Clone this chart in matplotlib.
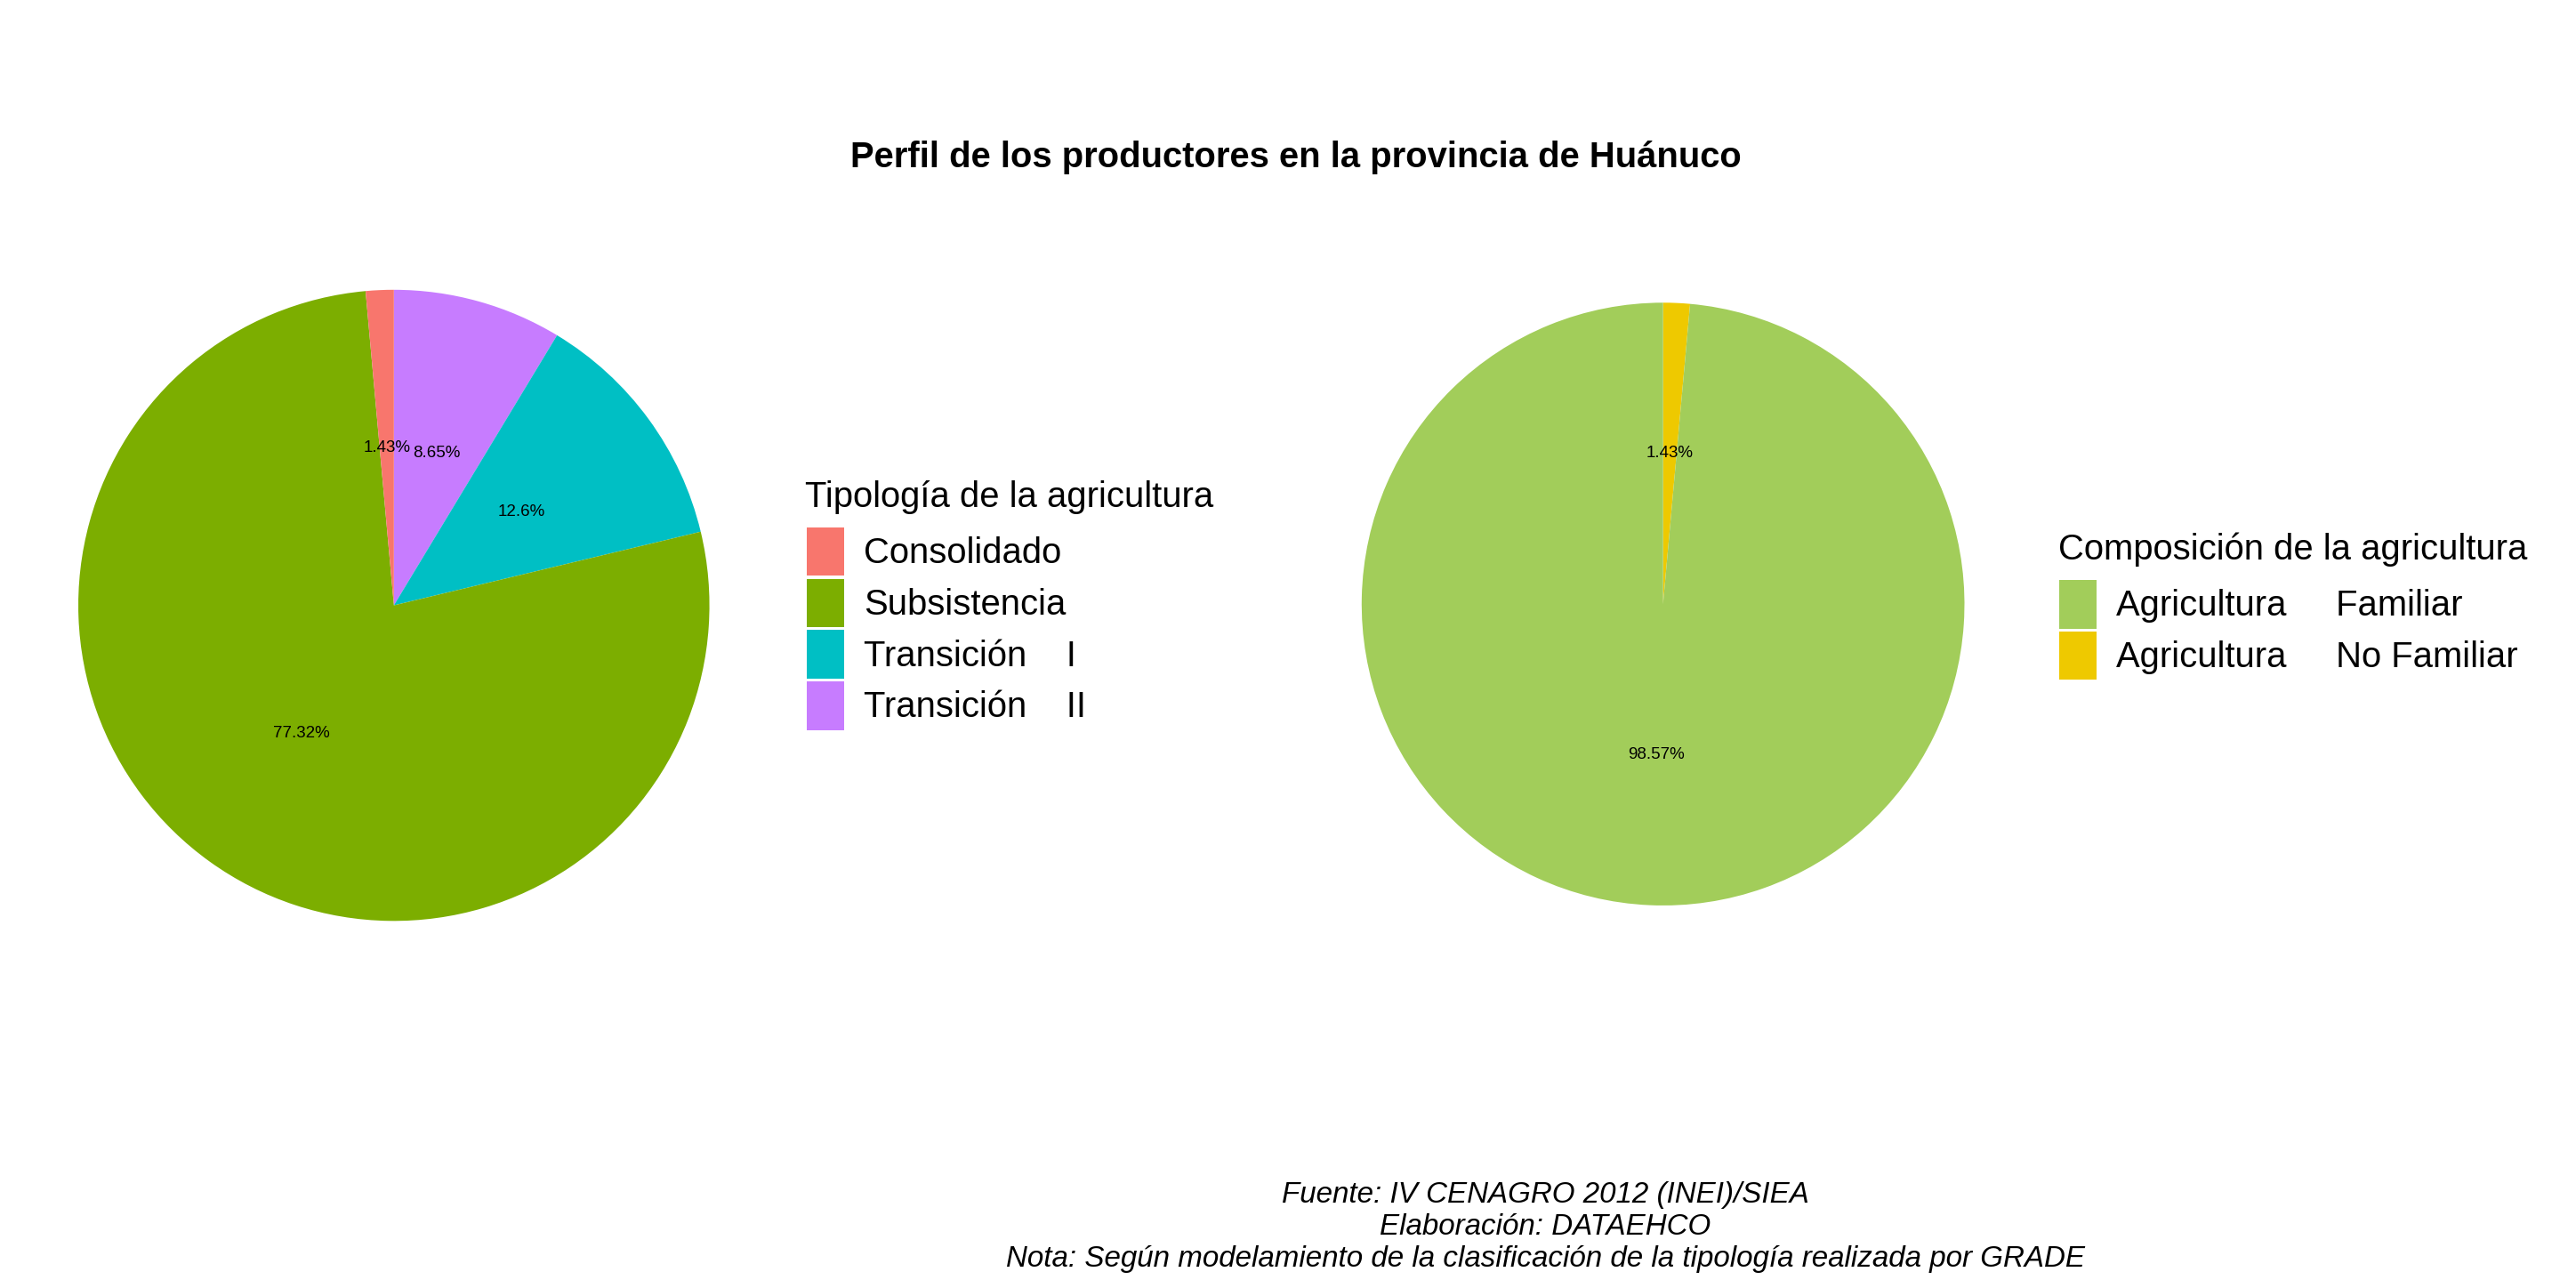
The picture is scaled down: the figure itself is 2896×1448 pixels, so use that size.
import matplotlib
matplotlib.use("Agg")
import matplotlib.pyplot as plt
from matplotlib.patches import Patch

plt.rcParams['font.family'] = ['Liberation Sans', 'DejaVu Sans']

# tipologia (legend order)
tipo_labels = ['Consolidado', 'Subsistencia', 'Transición    I', 'Transición    II']
tipo_values = [1.43, 77.32, 12.6, 8.65]
tipo_colors = ['#F8766D', '#7CAE00', '#00BFC4', '#C77CFF']

# composicion (legend order)
comp_labels = ['Agricultura     Familiar', 'Agricultura     No Familiar']
comp_values = [98.57, 1.43]
comp_colors = ['#A2CD5A', '#EEC900']

titulo = 'Perfil de los productores en la provincia de Huánuco'
nota = ('Fuente: IV CENAGRO 2012 (INEI)/SIEA\n'
        'Elaboración: DATAEHCO\n'
        'Nota: Según modelamiento de la clasificación de la tipología realizada por GRADE')


def fmt_pct(p):
    return '{:g}%'.format(round(p, 2))


fig = plt.figure(figsize=(28.96, 14.48), dpi=100)

# left pie
ax1 = fig.add_axes([0.0304, 0.285, 0.245, 0.490])
ax1.pie(tipo_values[::-1], colors=tipo_colors[::-1], startangle=90, counterclock=False,
        autopct=fmt_pct, pctdistance=0.5, radius=1,
        textprops={'fontsize': 13.5, 'color': 'black'})
ax1.set_xlim(-1, 1)
ax1.set_ylim(-1, 1)
ax1.set_axis_off()

# right pie
ax2 = fig.add_axes([0.5286, 0.297, 0.234, 0.468])
ax2.pie(comp_values[::-1], colors=comp_colors[::-1], startangle=90, counterclock=False,
        autopct=fmt_pct, pctdistance=0.5, radius=1,
        textprops={'fontsize': 13.5, 'color': 'black'})
ax2.set_xlim(-1, 1)
ax2.set_ylim(-1, 1)
ax2.set_axis_off()

# legends
fs = 28.8
leg_kw = dict(loc='upper left', frameon=False, fontsize=fs, handlelength=1.05,
              handleheight=1.72, handletextpad=0.55, labelspacing=0.08,
              borderpad=0, borderaxespad=0)

h1 = [Patch(facecolor=c, edgecolor='none') for c in tipo_colors]
fig.text(0.3125, 0.6064, 'Tipología de la agricultura', fontsize=fs, va='baseline', ha='left')
fig.legend(h1, tipo_labels, bbox_to_anchor=(0.3132, 0.5905), **leg_kw)

h2 = [Patch(facecolor=c, edgecolor='none') for c in comp_colors]
fig.text(0.799, 0.5656, 'Composición de la agricultura', fontsize=fs, va='baseline', ha='left')
fig.legend(h2, comp_labels, bbox_to_anchor=(0.7994, 0.5497), **leg_kw)

fig.text(0.503, 0.870, titulo, fontsize=fs, fontweight='bold', ha='center', va='baseline')
fig.text(0.600, 1 - 1424 / 1448, nota, fontsize=23.9, style='italic', ha='center',
         va='baseline', multialignment='center', linespacing=1.2)

fig.savefig('out.png', dpi=100, facecolor='white')
